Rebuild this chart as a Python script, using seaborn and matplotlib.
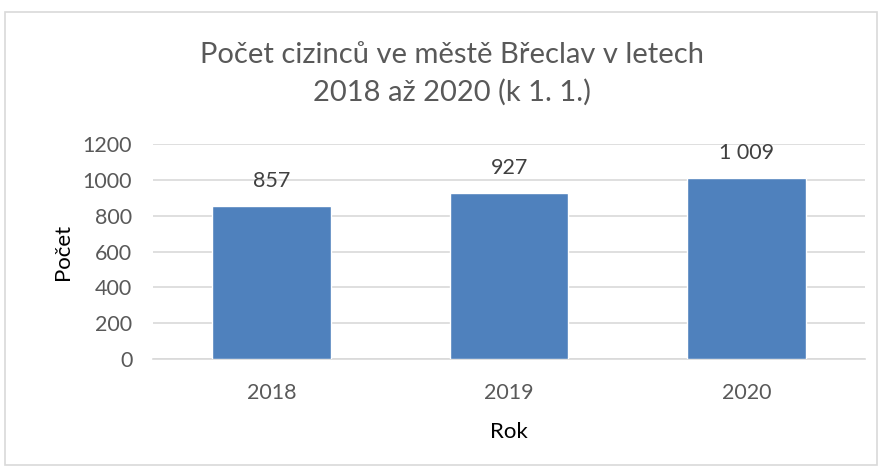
import matplotlib
matplotlib.use("Agg")
import matplotlib.pyplot as plt
import seaborn as sns
import pandas as pd
from matplotlib.patches import Rectangle

# data
roky = ["2018", "2019", "2020"]
pocty = [857, 927, 1009]
popisky = ["857", "927", "1 009"]

data = pd.DataFrame({"Rok": roky, "Počet": pocty})

sns.set_style("white")
plt.rcParams["font.family"] = ["Lato", "DejaVu Sans"]

fig = plt.figure(figsize=(8.8, 4.68), dpi=100)
ax = fig.add_axes([0.174, 0.233, 0.809, 0.459])

sns.barplot(data=data, x="Rok", y="Počet", color="#4F81BD", width=0.5,
            saturation=1, ax=ax, zorder=3)

# data labels above bars
for i, (v, t) in enumerate(zip(pocty, popisky)):
    ax.annotate(t, (i, v), xytext=(0, 18), textcoords="offset points",
                ha="center", va="center", fontsize=15.5, color="#404040")

ax.set_ylim(0, 1200)
ax.set_xlim(-0.5, 2.5)
ax.set_yticks(range(0, 1201, 200))
ax.yaxis.grid(True, color="#D9D9D9", linewidth=1.2, zorder=0)
ax.set_axisbelow(True)
for s in ["top", "right", "left"]:
    ax.spines[s].set_visible(False)
ax.spines["bottom"].set_color("#D9D9D9")
ax.spines["bottom"].set_linewidth(1.2)
ax.tick_params(axis="both", length=0, labelsize=15.5, labelcolor="#595959")
ax.tick_params(axis="y", pad=15)
ax.tick_params(axis="x", pad=17)

ax.set_xlabel("Rok", fontsize=16, color="#000000", labelpad=14)
ax.set_ylabel("Počet", fontsize=16, color="#000000", labelpad=7)

fig.text(0.514, 0.842, "Počet cizinců ve městě Břeclav v letech\n2018 až 2020 (k 1. 1.)",
         ha="center", va="center", fontsize=21, color="#595959", linespacing=1.5)

# chart frame
fig.patches.append(Rectangle((5 / 880, 3 / 468), 872 / 880, 453 / 468,
                             transform=fig.transFigure, fill=False,
                             edgecolor="#D9D9D9", linewidth=1.2))

fig.savefig("out.png", dpi=100)
